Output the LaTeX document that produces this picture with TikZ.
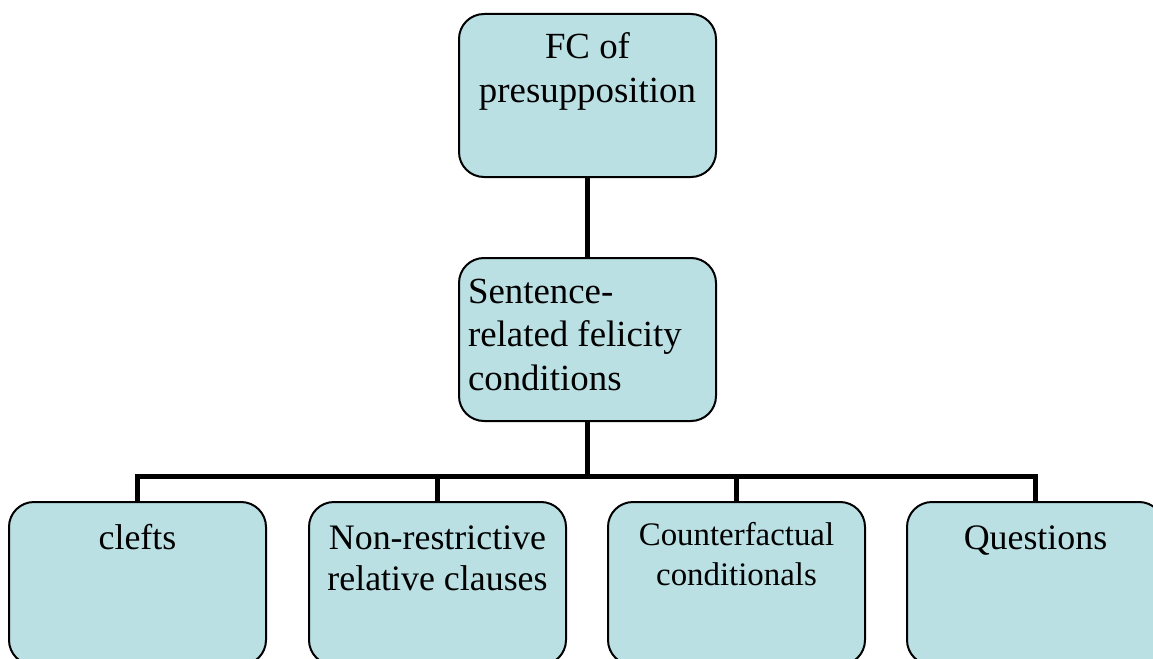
\documentclass[tikz,border=0pt]{standalone}
\usepackage{fontspec}
\setmainfont{Liberation Serif}
\definecolor{boxfill}{RGB}{186,224,228}
\tikzset{
  fcbox/.style={draw=black, line width=2bp, fill=boxfill, rounded corners=25bp,
    inner sep=0pt, outer sep=0pt, minimum width=257bp, minimum height=163bp, anchor=north west},
  conn/.style={line width=5bp, line join=miter}
}
\newcommand\topcentered[3]{\parbox[c][163bp][t]{257bp}{\centering\fontsize{#1}{#2}\selectfont #3\par}}
\begin{document}
\begin{tikzpicture}[x=1bp,y=-1bp]
\useasboundingbox (0,0) rectangle (1153,659);
\clip (0,0) rectangle (1153,659);
\node[fcbox] (top) at (459,14) {\topcentered{37}{44}{\rule{0pt}{45bp}FC of\\presupposition}};
\node[fcbox] (mid) at (459,258) {\parbox[c][163bp][t]{257bp}{\raggedright\leftskip=9bp\fontsize{37}{44}\selectfont\rule{0pt}{45bp}Sentence-\\related felicity\\conditions\par}};
\node[fcbox] (c1) at (9,502) {\topcentered{36}{42}{\rule{0pt}{47bp}clefts}};
\node[fcbox] (c2) at (309,502) {\topcentered{36}{42}{\rule{0pt}{47bp}Non-restrictive\\relative clauses}};
\node[fcbox] (c3) at (608,502) {\topcentered{33}{41}{\rule{0pt}{43bp}Counterfactual\\conditionals}};
\node[fcbox] (c4) at (907,502) {\topcentered{36}{42}{\rule{0pt}{47bp}Questions}};
\path (mid.south) ++(0,55) coordinate (bar);
\draw[conn] (top.south) -- (mid.north);
\draw[conn] (mid.south) -- (bar);
\draw[conn] (bar) -| (c1.north);
\draw[conn] (bar) -| (c2.north);
\draw[conn] (bar) -| (c3.north);
\draw[conn] (bar) -| (c4.north);
\end{tikzpicture}
\end{document}
